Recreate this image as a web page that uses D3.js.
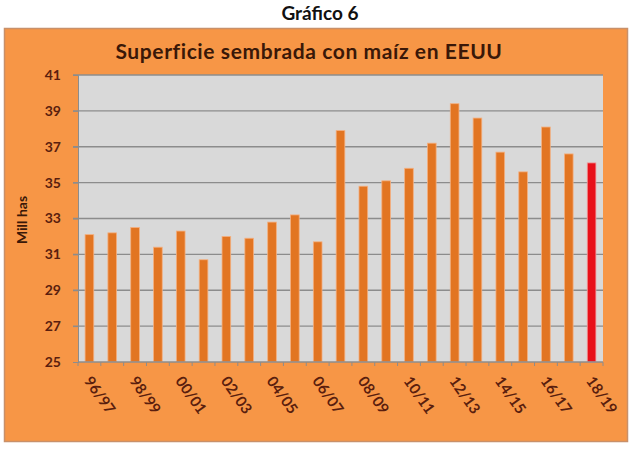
<!DOCTYPE html>
<html><head><meta charset="utf-8">
<script src="https://cdn.jsdelivr.net/npm/d3@7"></script>
<style>
body{margin:0;background:#fff;}
svg text{font-family:Lato,"Open Sans",sans-serif;}
</style></head>
<body><svg id="c" width="640" height="452"></svg>
<script>
const categories = ["96/97","97/98","98/99","99/00","00/01","01/02","02/03","03/04","04/05","05/06","06/07","07/08","08/09","09/10","10/11","11/12","12/13","13/14","14/15","15/16","16/17","17/18","18/19"];
const values = [32.1,32.2,32.5,31.4,32.3,30.7,32.0,31.9,32.8,33.2,31.7,37.9,34.8,35.1,35.8,37.2,39.4,38.6,36.7,35.6,38.1,36.6,36.1];
const yTicks = [25,27,29,31,33,35,37,39,41];
const title = "Gráfico 6";
const subtitle = "Superficie sembrada con maíz en EEUU";
const yLabel = "Mill has";

const svg = d3.select("#c");
const m = {l:78, r:603, t:75, b:362};

svg.append("text").attr("x",320).attr("y",20).attr("text-anchor","middle")
  .attr("font-size",19).attr("font-weight","bold").attr("fill","#111").text(title);

svg.append("rect").attr("x",4.5).attr("y",28.5).attr("width",623).attr("height",413)
  .attr("fill","#F79646").attr("stroke","#c8906a").attr("stroke-width",1.5);

svg.append("text").attr("x",309).attr("y",59).attr("text-anchor","middle")
  .attr("font-size",21).attr("letter-spacing",0.6).attr("font-weight","bold").attr("fill","#3a1808").text(subtitle);

const x = d3.scaleBand().domain(categories).range([m.l,m.r]).paddingInner(0.62).paddingOuter(0.31);
const y = d3.scaleLinear().domain([25,41]).range([m.b,m.t]);

svg.append("rect").attr("x",m.l).attr("y",m.t).attr("width",m.r-m.l).attr("height",m.b-m.t)
  .attr("fill","#D9D9D9");

svg.append("g").selectAll("line").data(yTicks.slice(1)).join("line")
  .attr("x1",m.l-5).attr("x2",m.r).attr("y1",d=>y(d)).attr("y2",d=>y(d))
  .attr("stroke","#8c8c8c").attr("stroke-width",1.3);

const ya = svg.append("g").attr("transform",`translate(${m.l},0)`)
  .call(d3.axisLeft(y).tickValues(yTicks).tickSize(5).tickPadding(12));
ya.select(".domain").attr("stroke","#8c8c8c");
ya.selectAll(".tick line").attr("stroke","#8c8c8c");
ya.selectAll("text").attr("font-size",14).attr("font-weight","bold").attr("fill","#5a1e0e")
  .attr("font-family","Lato,'Open Sans',sans-serif");

svg.append("text").attr("transform","translate(27,220) rotate(-90)").attr("text-anchor","middle")
  .attr("font-size",14).attr("font-weight","bold").attr("fill","#3a1808").text(yLabel);

svg.append("g").selectAll("rect").data(values).join("rect")
  .attr("x",(d,i)=>x(categories[i])).attr("width",x.bandwidth())
  .attr("y",d=>y(d)).attr("height",d=>y(25)-y(d))
  .attr("fill",(d,i)=>i===values.length-1?"#E8101A":"#E27522")
  .attr("stroke",(d,i)=>i===values.length-1?"#f0a0a0":"#f4b080").attr("stroke-width",0.8);

const step = x.step();
const xa = svg.append("g").attr("transform",`translate(0,${m.b})`);
xa.append("line").attr("x1",m.l).attr("x2",m.r).attr("stroke","#8c8c8c").attr("stroke-width",1.3);
xa.selectAll("line.tk").data(d3.range(categories.length+1)).join("line").attr("class","tk")
  .attr("x1",i=>m.l+i*step).attr("x2",i=>m.l+i*step).attr("y1",0).attr("y2",4).attr("stroke","#8c8c8c");
xa.selectAll("text").data(categories.filter((d,i)=>i%2===0)).join("text")
  .attr("transform",d=>`translate(${x(d)+x.bandwidth()/2-6},${19}) rotate(55)`)
  .attr("font-size",15).attr("font-weight","bold").attr("fill","#5a1e0e").text(d=>d);
</script></body></html>
